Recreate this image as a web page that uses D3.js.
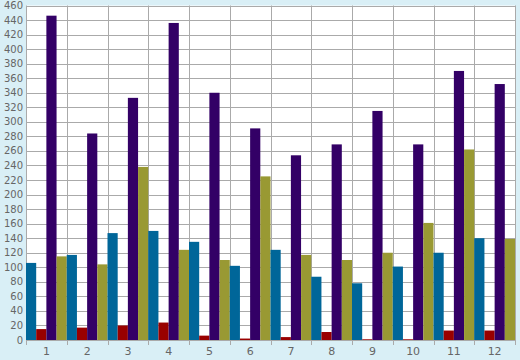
<!DOCTYPE html>
<html><head><meta charset="utf-8">
<script src="https://cdn.jsdelivr.net/npm/d3@7"></script>
<style>html,body{margin:0;padding:0;background:#d9eff6;}svg{display:block;}</style>
</head><body>
<svg id="c" width="520" height="360"></svg>
<script>
const categories = ["1","2","3","4","5","6","7","8","9","10","11","12"];
const seriesNames = ["A","B","C","D"];
const blueValues   = [106,117,147,150,135,102,124,87,78,101,120,140];
const redValues    = [15,17,20,24,6,2,4,11,1,1,13,13];
const purpleValues = [446,284,333,436,340,291,254,269,315,269,370,352];
const oliveValues  = [115,104,238,124,110,225,117,110,120,161,262,139];
const seriesColors = ["#006699","#990000","#330066","#999933"];
const yTicks = d3.range(0, 461, 20);

const series = [blueValues, redValues, purpleValues, oliveValues];
const svg = d3.select("#c");
const m = {l:26, r:5, t:5.5, b:20};
const W = 520, H = 360;
const x = d3.scaleBand().domain(categories).range([m.l, W - m.r]).padding(0);
const xi = d3.scaleBand().domain(seriesNames).range([0, x.bandwidth()]).padding(0);
const y = d3.scaleLinear().domain([0, 460]).range([H - m.b, m.t]);

svg.append("rect").attr("x", m.l).attr("y", m.t).attr("width", W - m.r - m.l).attr("height", y(0) - m.t).attr("fill", "#fff");

// horizontal grid
svg.append("g").selectAll("line").data(yTicks).join("line")
  .attr("x1", m.l).attr("x2", W - m.r)
  .attr("y1", d => Math.round(y(d)) + 0.5).attr("y2", d => Math.round(y(d)) + 0.5)
  .attr("stroke", "#aaaaaa").attr("stroke-width", 1);
// vertical grid
const bounds = categories.map(c => x(c)).concat([W - m.r]);
svg.append("g").selectAll("line").data(bounds).join("line")
  .attr("x1", d => Math.round(d) + 0.5).attr("x2", d => Math.round(d) + 0.5)
  .attr("y1", m.t).attr("y2", y(0) + 5)
  .attr("stroke", "#aaaaaa").attr("stroke-width", 1);

// bars
const g = svg.append("g");
categories.forEach((c, i) => {
  series.forEach((s, j) => {
    g.append("rect")
      .attr("x", x(c) + xi(seriesNames[j]))
      .attr("width", xi.bandwidth())
      .attr("y", y(s[i]))
      .attr("height", y(0) - y(s[i]))
      .attr("fill", seriesColors[j]);
  });
});

// y labels
svg.append("g").selectAll("text").data(yTicks).join("text")
  .attr("x", m.l - 3).attr("y", d => y(d)).attr("dy", "0.35em")
  .attr("text-anchor", "end").attr("fill", "#666")
  .attr("font-family", "DejaVu Sans, Verdana, sans-serif").attr("font-size", "10px")
  .text(d => d);
// x labels
svg.append("g").selectAll("text").data(categories).join("text")
  .attr("x", d => x(d) + x.bandwidth() / 2).attr("y", y(0) + 15)
  .attr("text-anchor", "middle").attr("fill", "#666")
  .attr("font-family", "DejaVu Sans, Verdana, sans-serif").attr("font-size", "11px")
  .text(d => d);
</script>
</body></html>
